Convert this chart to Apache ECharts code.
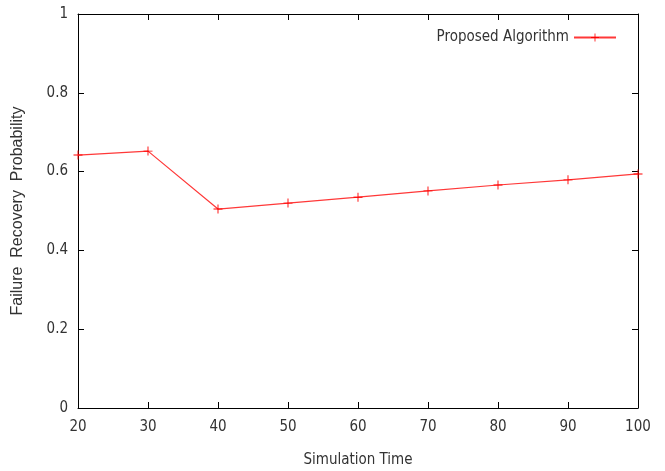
<!DOCTYPE html>
<html>
<head>
<meta charset="utf-8">
<script src="https://cdn.jsdelivr.net/npm/echarts@6/dist/echarts.min.js"></script>
<style>
  html, body { margin: 0; padding: 0; background: #fff; }
  #chart { width: 665px; height: 471px; }
</style>
</head>
<body>
<div id="chart"></div>
<script>
// data
var simTime = [20, 30, 40, 50, 60, 70, 80, 90, 100];
var recoveryProb = [0.642, 0.652, 0.505, 0.520, 0.535, 0.551, 0.566, 0.579, 0.594];
var seriesName = 'Proposed Algorithm';

var points = simTime.map(function (t, i) { return [t, recoveryProb[i]]; });

var font = '"DejaVu Sans Condensed", "DejaVu Sans", sans-serif';
var plus = 'path://M4.5,0H5.5V4.5H10V5.5H5.5V10H4.5V5.5H0V4.5H4.5Z';

var tickCommon = { show: true, inside: true, length: 6, lineStyle: { color: '#000', width: 1 } };
var lineCommon = { show: true, onZero: false, lineStyle: { color: '#000', width: 1 } };

var chart = echarts.init(document.getElementById('chart'));
chart.setOption({
  animation: false,
  grid: { left: 78, right: 27, top: 14, bottom: 63, outerBoundsMode: 'none' },
  legend: {
    right: 43, top: 25,
    align: 'right',
    itemWidth: 42, itemHeight: 10, itemGap: 8,
    textStyle: { fontFamily: font, fontSize: 15, color: '#333' },
    data: [seriesName]
  },
  xAxis: [
    {
      type: 'value', min: 20, max: 100, interval: 10,
      name: 'Simulation Time', nameLocation: 'middle', nameGap: 45,
      nameTextStyle: { fontFamily: font, fontSize: 15, color: '#333' },
      axisLine: lineCommon, axisTick: tickCommon,
      axisLabel: { fontFamily: font, fontSize: 15, color: '#333', margin: 12 },
      splitLine: { show: false }
    },
    {
      type: 'value', min: 20, max: 100, interval: 10, position: 'top',
      axisLine: lineCommon, axisTick: tickCommon,
      axisLabel: { show: false }, splitLine: { show: false }
    }
  ],
  yAxis: [
    {
      type: 'value', min: 0, max: 1, interval: 0.2,
      name: 'Failure  Recovery  Probability', nameLocation: 'middle', nameGap: 52,
      nameTextStyle: { fontFamily: '"Liberation Sans", Arial, sans-serif', fontSize: 16, color: '#333' },
      axisLine: lineCommon, axisTick: tickCommon,
      axisLabel: { fontFamily: font, fontSize: 15, color: '#333', margin: 10 },
      splitLine: { show: false }
    },
    {
      type: 'value', min: 0, max: 1, interval: 0.2, position: 'right',
      axisLine: lineCommon, axisTick: tickCommon,
      axisLabel: { show: false }, splitLine: { show: false }
    }
  ],
  series: [
    {
      name: seriesName,
      type: 'line',
      data: points,
      symbol: plus,
      symbolSize: 9,
      showSymbol: true,
      color: '#ff2020',
      lineStyle: { color: '#ff3838', width: 1.2 },
      itemStyle: { color: '#ff0000' }
    }
  ]
});
</script>
</body>
</html>
